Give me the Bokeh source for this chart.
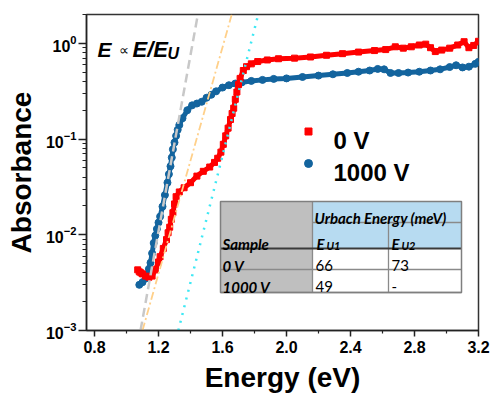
from bokeh.plotting import figure
from bokeh.models import Range1d, LinearScale, FixedTicker, PrintfTickFormatter
from bokeh.core.properties import value
from bokeh.embed import file_html
from bokeh.resources import INLINE

# ---------------- data ----------------
E_0V = [1.07, 1.08, 1.09, 1.10, 1.12, 1.14, 1.16, 1.18, 1.20, 1.21, 1.23, 1.25, 1.26,
        1.27, 1.28, 1.29, 1.30, 1.31, 1.33, 1.36, 1.40, 1.44, 1.48, 1.52, 1.55, 1.57,
        1.59, 1.605, 1.62, 1.635, 1.65, 1.66, 1.67, 1.68, 1.69, 1.70, 1.71, 1.73, 1.75,
        1.78, 1.82, 1.88, 1.95, 2.05, 2.15, 2.25, 2.35, 2.45, 2.55, 2.62, 2.68, 2.73,
        2.78, 2.83, 2.87, 2.90, 2.93, 2.97, 3.02, 3.07, 3.11, 3.14, 3.17, 3.20]
A_0V = [0.0043, 0.0041, 0.0040, 0.0039, 0.0037, 0.0036, 0.0037, 0.0043, 0.0052, 0.0059,
        0.0072, 0.0089, 0.0105, 0.012, 0.0145, 0.017, 0.021, 0.025, 0.028, 0.031, 0.035,
        0.041, 0.046, 0.051, 0.057, 0.063, 0.073, 0.088, 0.108, 0.13, 0.16, 0.185, 0.21,
        0.26, 0.31, 0.37, 0.43, 0.52, 0.57, 0.61, 0.645, 0.67, 0.69, 0.70, 0.72, 0.75,
        0.78, 0.81, 0.84, 0.86, 0.92, 0.89, 0.92, 0.96, 0.98, 0.90, 0.82, 0.85, 0.89,
        0.96, 1.04, 0.90, 0.95, 1.05]

E_1000V = [1.08, 1.10, 1.12, 1.13, 1.14, 1.15, 1.16, 1.17, 1.18, 1.19, 1.20, 1.21, 1.225,
           1.24, 1.256, 1.265, 1.275, 1.283, 1.29, 1.30, 1.31, 1.32, 1.33, 1.35, 1.38,
           1.41, 1.44, 1.47, 1.50, 1.53, 1.56, 1.60, 1.64, 1.68, 1.72, 1.78, 1.85, 1.92,
           2.00, 2.10, 2.20, 2.29, 2.38, 2.45, 2.52, 2.57, 2.61, 2.65, 2.70, 2.76, 2.83,
           2.90, 2.96, 3.02, 3.06, 3.10, 3.14, 3.18, 3.20]
A_1000V = [0.0030, 0.0032, 0.0035, 0.0038, 0.0044, 0.0051, 0.0064, 0.0082, 0.0098, 0.0115,
           0.0134, 0.0155, 0.0197, 0.026, 0.035, 0.043, 0.052, 0.064, 0.078, 0.092, 0.108,
           0.125, 0.14, 0.165, 0.20, 0.225, 0.235, 0.245, 0.27, 0.29, 0.315, 0.345, 0.365,
           0.38, 0.39, 0.405, 0.415, 0.425, 0.43, 0.445, 0.46, 0.475, 0.49, 0.505, 0.52,
           0.54, 0.535, 0.49, 0.49, 0.495, 0.505, 0.52, 0.535, 0.565, 0.59, 0.56, 0.57,
           0.61, 0.64]

# Urbach fit lines: end points (E, A)
fit_1000V_E = [1.0875, 1.446]
fit_1000V_A = [1e-3, 2.0]
fit_0V_U2_E = [1.10, 1.658]
fit_0V_U2_A = [1e-3, 2.0]
fit_0V_U1_E = [1.324, 1.823]
fit_0V_U1_A = [1e-3, 2.0]

x_ticks = [0.8, 1.2, 1.6, 2.0, 2.4, 2.8, 3.2]
x_minor = [1.0, 1.4, 1.8, 2.2, 2.6, 3.0]

series_labels = ["0 V", "1000 V"]
table_samples = ["0 V", "1000 V"]
table_EU1 = ["66", "49"]
table_EU2 = ["73", "-"]

RED = "#ff0000"
BLUE = "#13649e"
FW, FH = 392, 316

p = figure(frame_width=FW, frame_height=FH, output_backend="svg", toolbar_location=None,
           x_range=Range1d(0.75, 3.2), y_range=Range1d(1e-3, 2.0), y_axis_type="log",
           min_border_left=86, min_border_right=16, min_border_top=14, min_border_bottom=64,
           background_fill_color="white", border_fill_color="white")
p.extra_x_ranges = {"px": Range1d(0, FW)}
p.extra_y_ranges = {"px": Range1d(FH, 0)}
p.extra_x_scales = {"px": LinearScale()}
p.extra_y_scales = {"px": LinearScale()}

p.xgrid.visible = False
p.ygrid.visible = False
p.outline_line_color = "#333333"
p.outline_line_width = 1.5

FONT = "Liberation Sans"
for ax in (p.xaxis[0], p.yaxis[0]):
    ax.axis_line_color = "#222222"
    ax.axis_line_width = 1.5
    ax.major_tick_line_color = "#222222"
    ax.minor_tick_line_color = "#222222"
    ax.major_tick_line_width = 1.5
    ax.minor_tick_line_width = 1.2
    ax.major_tick_in = 0
    ax.minor_tick_in = 0
    ax.major_label_text_font = FONT
    ax.major_label_text_font_style = "bold"
    ax.major_label_text_font_size = "16px"
    ax.major_label_text_color = "black"
    ax.axis_label_text_font = FONT
    ax.axis_label_text_font_style = "bold"
    ax.axis_label_text_font_size = "28px"
    ax.axis_label_text_color = "black"

p.xaxis.ticker = FixedTicker(ticks=x_ticks, minor_ticks=x_minor)
p.xaxis.formatter = PrintfTickFormatter(format="%.1f")
p.xaxis.major_tick_out = 6
p.xaxis.minor_tick_out = 3
p.xaxis.major_label_standoff = 4
p.xaxis.axis_label = "Energy (eV)"
p.xaxis.axis_label_standoff = 6

p.yaxis.major_tick_out = 8
p.yaxis.minor_tick_out = 4
p.yaxis.major_label_standoff = 2
p.yaxis.axis_label = "Absorbance"
p.yaxis.axis_label_standoff = 6

# data
p.line(E_1000V, A_1000V, line_color=BLUE, line_width=5)
p.scatter(E_1000V, A_1000V, marker="circle", size=7, color=BLUE)
p.line(E_0V, A_0V, line_color=RED, line_width=5)
p.scatter(E_0V, A_0V, marker="square", size=6, color=RED)

# Urbach tail fits
p.line(fit_1000V_E, fit_1000V_A, line_color="#c8c8c8", line_width=2.5, line_dash="9 5")
p.line(fit_0V_U2_E, fit_0V_U2_A, line_color="#ffd08a", line_width=1.8, line_dash="8 3 2 3")
p.line(fit_0V_U1_E, fit_0V_U1_A, line_color="#3ee8f4", line_width=2.5, line_dash="2 6")

px = dict(x_range_name="px", y_range_name="px")

# annotation E ∝ E/E_U
p.text([11], [35], text=["E"], text_font=value(FONT), text_font_size="21px",
       text_font_style="bold italic", text_baseline="alphabetic", **px)
p.text([32], [35], text=["∝"], text_font=value(FONT), text_font_size="14px",
       text_baseline="alphabetic", **px)
p.text([46], [35], text=["E/E"], text_font=value(FONT), text_font_size="22px",
       text_font_style="bold italic", text_baseline="alphabetic", **px)
p.text([81], [39], text=["U"], text_font=value(FONT), text_font_size="16px",
       text_font_style="bold italic", text_baseline="alphabetic", **px)

# legend
p.scatter([222], [117], marker="square", size=7, color=RED, **px)
p.scatter([222], [149], marker="circle", size=8, color=BLUE, **px)
p.text([247, 247], [126, 158], text=series_labels, text_font=value(FONT),
       text_font_size="24px", text_font_style="bold", text_baseline="middle",
       text_align="left", **px)

# table
cols = [134, 226, 302, 375]
rows = [187, 208, 234, 255, 278]
GRAY = "#bfbfbf"
LBLUE = "#b7dbf1"
p.quad(left=[cols[0]], right=[cols[1]], top=[rows[0]], bottom=[rows[4]],
       fill_color=GRAY, line_color=None, **px)
p.quad(left=[cols[1]], right=[cols[3]], top=[rows[0]], bottom=[rows[2]],
       fill_color=LBLUE, line_color=None, **px)
p.quad(left=[cols[1]], right=[cols[3]], top=[rows[2]], bottom=[rows[4]],
       fill_color="white", line_color=None, **px)
# grid lines
p.segment(x0=[cols[1], cols[0], cols[0], cols[1], cols[2]],
          y0=[rows[1], rows[3], rows[4], rows[0], rows[1]],
          x1=[cols[3], cols[3], cols[3], cols[1], cols[2]],
          y1=[rows[1], rows[3], rows[4], rows[4], rows[4]],
          line_color="#8a8a8a", line_width=1.3, **px)
p.segment(x0=[cols[0]], y0=[rows[2]], x1=[cols[3]], y1=[rows[2]],
          line_color="#3a3a3a", line_width=2, **px)
p.quad(left=[cols[0]], right=[cols[3]], top=[rows[0]], bottom=[rows[4]],
       fill_color=None, line_color="#7f7f7f", line_width=1.5, **px)

TF = "Lato"
p.text([228], [203], text=["Urbach Energy (meV)"], text_font=value(TF), text_font_size="15px",
       text_font_style="bold italic", text_baseline="alphabetic", **px)
p.text([136], [229], text=["Sample"], text_font=value(TF), text_font_size="15px",
       text_font_style="bold italic", text_baseline="alphabetic", **px)
p.text([230, 305], [229, 229], text=["E", "E"], text_font=value(TF), text_font_size="15px",
       text_font_style="bold italic", text_baseline="alphabetic", **px)
p.text([240, 315], [231, 231], text=["U1", "U2"], text_font=value(TF), text_font_size="11px",
       text_font_style="bold italic", text_baseline="alphabetic", **px)
p.text([136, 136], [251, 272], text=table_samples, text_font=value(TF), text_font_size="15px",
       text_font_style="bold italic", text_baseline="alphabetic", **px)
p.text([229, 229], [251, 272], text=table_EU1, text_font=value(TF), text_font_size="15px",
       text_baseline="alphabetic", **px)
p.text([305, 305], [251, 272], text=table_EU2, text_font=value(TF), text_font_size="15px",
       text_baseline="alphabetic", **px)

open("out.html", "w").write(file_html(p, INLINE))
